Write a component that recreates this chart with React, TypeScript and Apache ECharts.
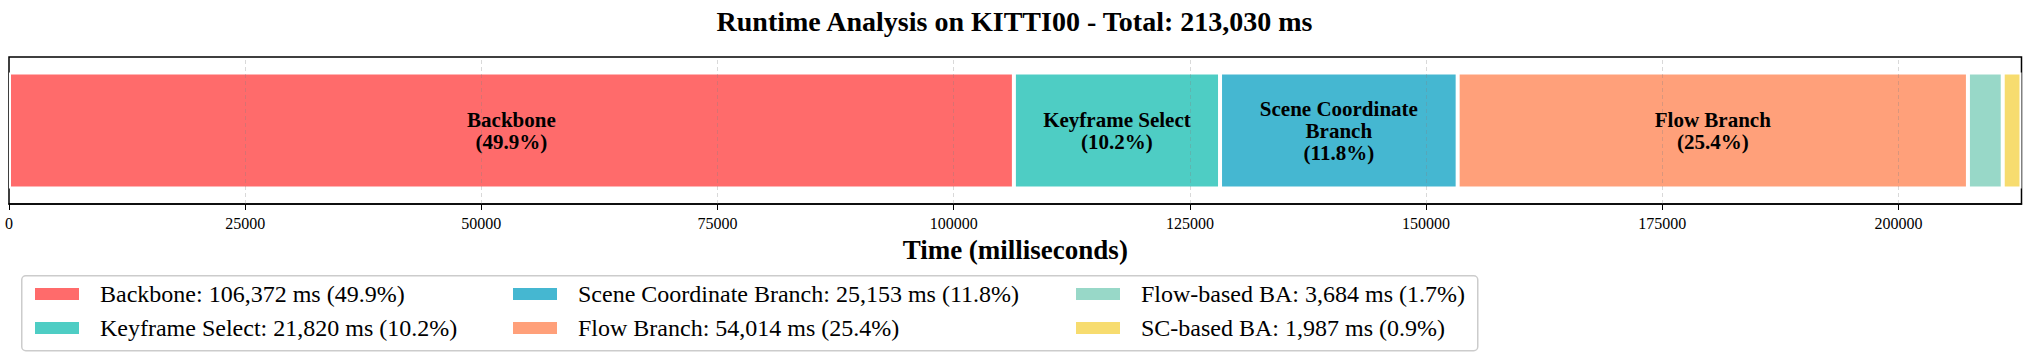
import React, { useEffect, useRef } from 'react';
import * as echarts from 'echarts';

const categories = [
  'Backbone',
  'Keyframe Select',
  'Scene Coordinate Branch',
  'Flow Branch',
  'Flow-based BA',
  'SC-based BA',
];
const runtimesMs = [106372, 21820, 25153, 54014, 3684, 1987];
const colors = ['#FF6B6B', '#4ECDC4', '#45B7D1', '#FFA07A', '#98D8C8', '#F7DC6F'];
const barLabels = ['Backbone', 'Keyframe Select', 'Scene Coordinate\nBranch', 'Flow Branch', '', ''];
const xTicks = [0, 25000, 50000, 75000, 100000, 125000, 150000, 175000, 200000];
const xTickInterval = 25000;
const legendColumns = [
  [0, 1],
  [2, 3],
  [4, 5],
];

const FONT = "'Liberation Serif', 'Times New Roman', serif";

export default function App() {
  const ref = useRef<HTMLDivElement>(null);

  useEffect(() => {
    if (!ref.current) return;
    const chart = echarts.init(ref.current, null, { renderer: 'svg' });
    const total = runtimesMs.reduce((a, b) => a + b, 0);
    const pct = (v: number) => ((v / total) * 100).toFixed(1);
    const fmt = (v: number) => v.toLocaleString('en-US');
    const valueByName: Record<string, number> = {};
    categories.forEach((c, i) => (valueByName[c] = runtimesMs[i]));

    const legendLeft = [33, 511, 1074];

    const series: any[] = categories.map((name, i) => ({
      type: 'bar',
      name,
      stack: 'total',
      data: [runtimesMs[i]],
      barWidth: '79%',
      itemStyle: { color: colors[i], borderColor: '#ffffff', borderWidth: 2 },
      label: {
        show: barLabels[i] !== '',
        position: 'inside',
        formatter: () => `${barLabels[i]}\n(${pct(runtimesMs[i])}%)`,
        fontFamily: FONT,
        fontWeight: 'bold',
        fontSize: 21,
        lineHeight: 22,
        color: '#000',
      },
      emphasis: { disabled: true },
    }));
    series[series.length - 1].markLine = {
      silent: true,
      symbol: ['none', 'none'],
      label: { show: false },
      lineStyle: { color: 'rgba(128,128,128,0.3)', type: [4, 3], width: 1 },
      data: xTicks.filter((t) => t > 0).map((t) => ({ xAxis: t })),
    };

    chart.setOption({
      animation: false,
      title: {
        text: `Runtime Analysis on KITTI00 - Total: ${fmt(total)} ms`,
        left: 'center',
        top: 2,
        textStyle: { fontFamily: FONT, fontWeight: 'bold', fontSize: 28, color: '#000' },
      },
      grid: {
        left: 9,
        right: 7.5,
        top: 57,
        height: 147,
        show: true,
        borderColor: '#000',
        borderWidth: 1.5,
        backgroundColor: 'transparent',
      },
      xAxis: {
        type: 'value',
        min: 0,
        max: total,
        interval: xTickInterval,
        name: 'Time (milliseconds)',
        nameLocation: 'middle',
        nameGap: 32,
        nameTextStyle: { fontFamily: FONT, fontWeight: 'bold', fontSize: 27, color: '#000' },
        axisLine: { show: true, lineStyle: { color: '#000', width: 1.5 } },
        axisTick: { show: true, length: 6, lineStyle: { color: '#000', width: 1 }, customValues: xTicks },
        axisLabel: {
          fontFamily: FONT,
          fontSize: 16,
          color: '#000',
          margin: 11,
          customValues: xTicks,
          formatter: (v: number) => String(v),
        },
        splitLine: { show: false },
      },
      yAxis: {
        type: 'category',
        data: [''],
        show: false,
      },
      legend: legendColumns.map((idxs, c) => ({
        orient: 'vertical',
        left: legendLeft[c],
        top: 282,
        padding: 0,
        itemWidth: 46,
        itemHeight: 14,
        itemGap: 10,
        icon: 'rect',
        selectedMode: false,
        data: idxs.map((i) => categories[i]),
        formatter: (name: string) =>
          `${name}: ${fmt(valueByName[name])} ms (${pct(valueByName[name])}%)`,
        textStyle: {
          fontFamily: FONT,
          fontSize: 24,
          lineHeight: 24,
          color: '#000',
          padding: [0, 0, 0, 15],
        },
      })),
      graphic: [
        {
          type: 'rect',
          left: 21,
          top: 275,
          z: 0,
          shape: { width: 1456, height: 75, r: 4 },
          style: { fill: '#ffffff', stroke: '#cccccc', lineWidth: 1.5 },
        },
      ],
      series,
    });

    return () => chart.dispose();
  }, []);

  return (
    <div
      ref={ref}
      style={{ position: 'fixed', left: 0, top: 0, width: 2029, height: 354, background: '#fff' }}
    />
  );
}
